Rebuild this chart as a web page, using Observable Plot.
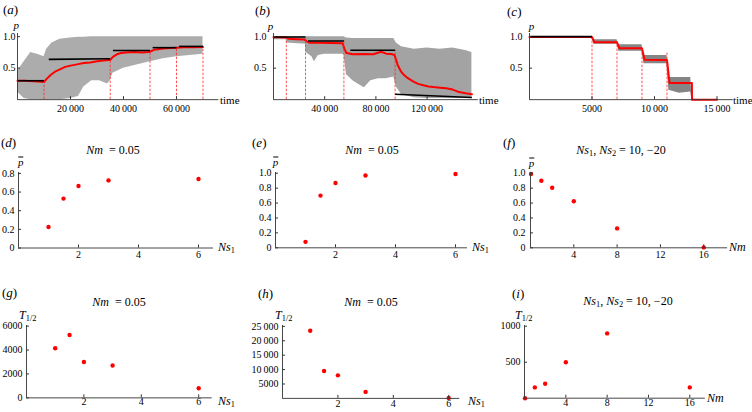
<!DOCTYPE html>
<html><head><meta charset="utf-8">
<script src="https://cdn.jsdelivr.net/npm/d3@7"></script>
<script src="https://cdn.jsdelivr.net/npm/@observablehq/plot@0.6"></script>
<style>
html,body{margin:0;padding:0;background:#fff;}
#fig{position:relative;width:752px;height:412px;overflow:hidden;font-family:"Liberation Serif","Times New Roman",Times,"DejaVu Serif",serif;color:#000;background:#fff;}
.lab{position:absolute;white-space:nowrap;line-height:1;font-family:"Liberation Serif","Times New Roman",Times,"DejaVu Serif",serif;}
.sb{font-size:0.7em;vertical-align:-0.3em;font-style:normal;}
.ov{display:inline-block;border-top:1px solid #000;line-height:0.7em;padding-top:1px;}
svg text{font-family:"Liberation Serif","Times New Roman",Times,"DejaVu Serif",serif;}
</style></head><body><div id="fig"></div><script>
// ---------- Panel (a) data ----------
const aRedT = [0, 3000, 6000, 9000, 10000, 11000, 12500, 14000, 16000, 18000, 20000, 22500, 25000, 27500, 30000, 32500, 34500, 35000, 36000, 37500, 39000, 41000, 44000, 47000, 49500, 50000, 51500, 53000, 55000, 58000, 60000, 63000, 66000, 70000];
const aRedP = [0.30, 0.30, 0.29, 0.285, 0.28, 0.33, 0.39, 0.44, 0.48, 0.52, 0.54, 0.56, 0.58, 0.59, 0.61, 0.62, 0.63, 0.63, 0.68, 0.72, 0.74, 0.75, 0.755, 0.75, 0.755, 0.76, 0.79, 0.80, 0.81, 0.82, 0.825, 0.83, 0.83, 0.835];
const aBlackT1 = [0, 11800, 36000, 51000, 61000];
const aBlackT2 = [10000, 35000, 50000, 60000, 70000];
const aBlackP1 = [0.30, 0.64, 0.78, 0.825, 0.845];
const aBlackP2 = [0.30, 0.65, 0.78, 0.825, 0.845];
const aDashT = [10000, 35000, 50000, 60000, 70000];
const aDashTop = [0.29, 0.65, 0.78, 0.825, 0.845];
const aBandT = [0, 2500, 5000, 7500, 10000, 11000, 13000, 16000, 20000, 23000, 25000, 28000, 31000, 34000, 35000, 36000, 40000, 45000, 50000, 55000, 60000, 65000, 70000];
const aBandLo = [0.12, 0.02, 0, 0, 0, 0, 0, 0, 0.02, 0.05, 0.2, 0.3, 0.3, 0.25, 0.3, 0.42, 0.5, 0.55, 0.6, 0.65, 0.68, 0.7, 0.72];
const aBandHi = [0.45, 0.6, 0.75, 0.72, 0.68, 0.8, 0.9, 0.96, 0.98, 0.99, 0.99, 1, 1, 1, 1, 1, 1, 1, 1, 1, 1, 1, 1];
const aXTicks = [20000, 40000, 60000];
const aXLabels = ["20\u2009000", "40\u2009000", "60\u2009000"];

// ---------- Panel (b) data ----------
const bRedT = [0, 5000, 10000, 12000, 18000, 24000, 26000, 28000, 35000, 45000, 54000, 55500, 57000, 62000, 70000, 78000, 84000, 88000, 92000, 94500, 96000, 97000, 99500, 102000, 105000, 109000, 113000, 117000, 121000, 125000, 130000, 135000, 140000, 145000, 150000, 155000];
const bRedP = [0.99, 0.99, 0.985, 0.965, 0.96, 0.955, 0.925, 0.905, 0.905, 0.9, 0.895, 0.80, 0.74, 0.72, 0.725, 0.72, 0.76, 0.73, 0.725, 0.71, 0.62, 0.55, 0.45, 0.39, 0.34, 0.29, 0.25, 0.23, 0.21, 0.20, 0.19, 0.18, 0.16, 0.12, 0.10, 0.085];
const bBlackT1 = [0, 27000, 60000, 95000];
const bBlackT2 = [25000, 55000, 95000, 155000];
const bBlackP1 = [0.995, 0.93, 0.785, 0.085];
const bBlackP2 = [0.995, 0.93, 0.785, 0.035];
const bDashT = [10000, 25000, 55000, 95000];
const bDashTop = [0.995, 0.97, 0.93, 0.785];
const bBandT = [0, 10000, 10500, 25000, 25500, 30000, 32000, 35000, 40000, 45000, 50000, 55000, 57000, 62000, 66000, 71000, 76000, 82000, 88000, 94000, 96000, 100000, 110000, 120000, 130000, 140000, 150000, 155000];
const bBandLo = [0.95, 0.95, 0.9, 0.88, 0.75, 0.68, 0.6, 0.7, 0.72, 0.72, 0.72, 0.72, 0.4, 0.3, 0.25, 0.19, 0.3, 0.33, 0.33, 0.36, 0.2, 0.08, 0.03, 0.02, 0.02, 0.02, 0.02, 0.02];
const bBandHi = [1, 1, 1, 1, 1, 1, 1, 1, 1, 1, 1, 1, 0.98, 0.97, 0.97, 0.97, 0.97, 0.97, 0.97, 0.97, 0.9, 0.84, 0.8, 0.82, 0.8, 0.82, 0.78, 0.75];
const bXTicks = [40000, 80000, 120000];
const bXLabels = ["40\u2009000", "80\u2009000", "120\u2009000"];

// ---------- Panel (c) data ----------
const cRedT = [0, 5000, 5200, 7000, 7200, 9000, 9200, 11000, 11200, 12990, 13000, 15000];
const cRedP = [0.995, 0.995, 0.91, 0.91, 0.815, 0.815, 0.635, 0.63, 0.265, 0.265, 0, 0];
const cBlackT1 = [0];
const cBlackT2 = [5000];
const cBlackP1 = [1.0];
const cBlackP2 = [1.0];
const cDashT = [5000, 7000, 9000, 11000];
const cDashTop = [0.995, 0.92, 0.82, 0.76];
const cBandT = [0, 5000, 5150, 7000, 7150, 9000, 9150, 11000, 11150, 12000, 12900, 13000, 15000];
const cBandLo = [0.985, 0.985, 0.88, 0.88, 0.77, 0.77, 0.57, 0.57, 0.15, 0.1, 0.12, 0, 0];
const cBandHi = [1, 1, 0.95, 0.95, 0.87, 0.87, 0.7, 0.7, 0.35, 0.35, 0.35, 0, 0];
const cXTicks = [5000, 10000, 15000];
const cXLabels = ["5000", "10\u2009000", "15\u2009000"];

const pTicks = [0.5, 1.0];
const pLabels = ["0.5", "1.0"];

// ---------- Panels (d)-(i) data ----------
const ns1 = [1, 1.5, 2, 3, 6];
const nm = [0.05, 1, 2, 4, 8, 16];
const dP = [0.225, 0.53, 0.665, 0.725, 0.74];
const eP = [0.08, 0.70, 0.87, 0.97, 0.99];
const fP = [0.99, 0.90, 0.805, 0.625, 0.26, 0.005];
const gT = [4150, 5250, 3000, 2700, 800];
const hT = [23500, 9500, 8000, 2250, 150];
const iT = [0, 150, 200, 500, 900, 150];

const nsTicks = [2, 4, 6];
const nsLabels = ["2", "4", "6"];
const nmTicks = [4, 8, 12, 16];
const nmLabels = ["4", "8", "12", "16"];
const d_yTicks = [0, 0.2, 0.4, 0.6, 0.8];
const d_yLabels = ["0", "0.2", "0.4", "0.6", "0.8"];
const e_yTicks = [0, 0.2, 0.4, 0.6, 0.8, 1.0];
const e_yLabels = ["0", "0.2", "0.4", "0.6", "0.8", "1.0"];
const g_yTicks = [0, 2000, 4000, 6000];
const g_yLabels = ["0", "2000", "4000", "6000"];
const h_yTicks = [5000, 10000, 15000, 20000, 25000];
const h_yLabels = ["5000", "10\u2009000", "15\u2009000", "20\u2009000", "25\u2009000"];
const i_yTicks = [500, 1000];
const i_yLabels = ["500", "1000"];

// ---------- helpers ----------
const fig = document.getElementById("fig");
const idx = a => a.map((_, i) => i);
const AX = "#333";
const SERIF = "'Liberation Serif', 'Times New Roman', Times, 'DejaVu Serif', serif";

function panel(f, marks) {
  const mL = 45, mR = 30, mT = 12, mB = 24;
  const w = f.x1 - f.x0 + mL + mR, h = f.yb - f.yt + mT + mB;
  const xmap = new Map(f.xt.map((t, i) => [t, f.xl[i]]));
  const ymap = new Map(f.yt2.map((t, i) => [t, f.yl[i]]));
  const svg = Plot.plot({
    width: w, height: h,
    marginLeft: mL, marginRight: mR, marginTop: mT, marginBottom: mB,
    x: {domain: f.xd}, y: {domain: f.yd},
    style: {background: "transparent", overflow: "visible", fontFamily: SERIF, fontSize: "10px", color: "#000"},
    marks: [
      ...marks,
      Plot.ruleY([f.yd[0]], {stroke: AX, strokeWidth: 0.9}),
      Plot.ruleX([f.xd[0]], {stroke: AX, strokeWidth: 0.9}),
      Plot.axisX({ticks: f.xt, tickFormat: d => xmap.get(d), tickSize: -3, tickPadding: f.xpad, stroke: AX, fill: "#000", fontSize: 10, label: null}),
      Plot.axisY({ticks: f.yt2, tickFormat: d => ymap.get(d), tickSize: -3, tickPadding: f.ypad, stroke: AX, fill: "#000", fontSize: 10, label: null})
    ]
  });
  svg.style.position = "absolute";
  svg.style.left = (f.x0 - mL) + "px";
  svg.style.top = (f.yt - mT) + "px";
  svg.style.maxWidth = "none";
  fig.appendChild(svg);
}

function topMarks(o) {
  return [
    Plot.areaY(idx(o.bandT), {x: i => o.bandT[i], y1: i => o.bandLo[i], y2: i => o.bandHi[i], fill: o.bandColor, curve: "linear"}),
    Plot.line(idx(o.redT), {x: i => o.redT[i], y: i => o.redP[i], stroke: "#ff0000", strokeWidth: 2, strokeLinejoin: "round"}),
    Plot.ruleX(idx(o.dashT), {x: i => o.dashT[i], y1: i => 0, y2: i => o.dashTop[i], stroke: "#ff2a2a", strokeWidth: 0.8, strokeDasharray: "2.5,1.5"}),
    Plot.link(idx(o.bT1), {x1: i => o.bT1[i], x2: i => o.bT2[i], y1: i => o.bP1[i], y2: i => o.bP2[i], stroke: "#000", strokeWidth: 1.6})
  ];
}
function dotMarks(xs, ys) {
  return [Plot.dot(idx(xs), {x: i => xs[i], y: i => ys[i], fill: "#ff0000", r: 2.2, stroke: null})];
}

// ---------- top row ----------
panel({x0: 17, x1: 218.4, yt: 32.85, yb: 99, xd: [0, 76000], yd: [0, 1.05], xt: aXTicks, xl: aXLabels, yt2: pTicks, yl: pLabels, xpad: 8, ypad: 5},
  topMarks({bandT: aBandT, bandLo: aBandLo, bandHi: aBandHi, bandColor: "#acacac", redT: aRedT, redP: aRedP, dashT: aDashT, dashTop: aDashTop, bT1: aBlackT1, bT2: aBlackT2, bP1: aBlackP1, bP2: aBlackP2}));
panel({x0: 272.5, x1: 477.3, yt: 32.85, yb: 99, xd: [0, 160000], yd: [0, 1.05], xt: bXTicks, xl: bXLabels, yt2: pTicks, yl: pLabels, xpad: 8, ypad: 10},
  topMarks({bandT: bBandT, bandLo: bBandLo, bandHi: bBandHi, bandColor: "#a3a3a3", redT: bRedT, redP: bRedP, dashT: bDashT, dashTop: bDashTop, bT1: bBlackT1, bT2: bBlackT2, bP1: bBlackP1, bP2: bBlackP2}));
panel({x0: 528.5, x1: 732.25, yt: 32.85, yb: 99, xd: [0, 16300], yd: [0, 1.05], xt: cXTicks, xl: cXLabels, yt2: pTicks, yl: pLabels, xpad: 8, ypad: 10},
  topMarks({bandT: cBandT, bandLo: cBandLo, bandHi: cBandHi, bandColor: "#858585", redT: cRedT, redP: cRedP, dashT: cDashT, dashTop: cDashTop, bT1: cBlackT1, bT2: cBlackT2, bP1: cBlackP1, bP2: cBlackP2}));

// ---------- middle row ----------
panel({x0: 18.3, x1: 213.3, yt: 171.8, yb: 247.3, xd: [0, 6.5], yd: [0, 0.81], xt: nsTicks, xl: nsLabels, yt2: d_yTicks, yl: d_yLabels, xpad: 5.5, ypad: 7}, dotMarks(ns1, dP));
panel({x0: 275.3, x1: 467.3, yt: 172, yb: 247.3, xd: [0, 6.4], yd: [0, 1.01], xt: nsTicks, xl: nsLabels, yt2: e_yTicks, yl: e_yLabels, xpad: 6, ypad: 7}, dotMarks(ns1, eP));
panel({x0: 530, x1: 727.1, yt: 172, yb: 247.3, xd: [0, 18.2], yd: [0, 1.01], xt: nmTicks, xl: nmLabels, yt2: e_yTicks, yl: e_yLabels, xpad: 6.5, ypad: 8}, dotMarks(nm, fP));

// ---------- bottom row ----------
panel({x0: 25.7, x1: 211.4, yt: 325.35, yb: 397.7, xd: [0, 6.47], yd: [0, 6050], xt: nsTicks, xl: nsLabels, yt2: g_yTicks, yl: g_yLabels, xpad: 3.5, ypad: 7}, dotMarks(ns1, gT));
panel({x0: 282, x1: 459.3, yt: 325.1, yb: 398, xd: [0, 6.4], yd: [0, 25300], xt: nsTicks, xl: nsLabels, yt2: h_yTicks, yl: h_yLabels, xpad: 4.5, ypad: 7}, dotMarks(ns1, hT));
panel({x0: 524, x1: 704.8, yt: 325, yb: 397.7, xd: [0, 17.5], yd: [0, 1010], xt: nmTicks, xl: nmLabels, yt2: i_yTicks, yl: i_yLabels, xpad: 3.5, ypad: 7}, dotMarks(nm, iT));

// ---------- text labels ----------
function lab(html, x, y, size, anchor) {
  const d = document.createElement("div");
  d.className = "lab";
  d.innerHTML = html;
  d.style.left = x + "px";
  d.style.top = y + "px";
  d.style.fontSize = size + "px";
  d.style.transform = anchor === "c" ? "translate(-50%,-50%)" : "translate(0,-50%)";
  fig.appendChild(d);
}
const panelLetters = ["a", "b", "c", "d", "e", "f", "g", "h", "i"];
const letterPos = [[3, 8.7], [255, 9.5], [507, 10.5], [1, 141.5], [252, 141.5], [503, 141.5], [2, 292], [258, 293], [512, 293]];
panelLetters.forEach((l, k) => lab("(<i>" + l + "</i>)", letterPos[k][0], letterPos[k][1], 13, "l"));

// top-row axis labels
[[16.3, 25], [270.5, 25.5], [531.5, 25.5]].forEach(p => lab("<i>p</i>", p[0], p[1], 11, "c"));
[[220, 100], [479, 100], [733, 100]].forEach(p => lab("time", p[0], p[1], 11, "l"));

// titles
const nmTitle = "<i>Nm</i>&nbsp; = 0.05";
const nsTitle = "<i>Ns</i><span class='sb'>1</span>, <i>Ns</i><span class='sb'>2</span> = 10, \u221220";
lab(nmTitle, 113, 150, 12, "c");
lab(nmTitle, 372, 150, 12, "c");
lab(nsTitle, 621, 151, 12, "c");
lab(nmTitle, 119, 302, 12, "c");
lab(nmTitle, 371, 302, 12, "c");
lab(nsTitle, 628, 302, 12, "c");

// middle/bottom axis labels
const pbar = "<i class='ov'>p</i>";
[[20.8, 162], [275.5, 162], [531.5, 163]].forEach(p => lab(pbar, p[0], p[1], 11, "c"));
const nsLab = "<i>Ns</i><span class='sb'>1</span>";
lab(nsLab, 218, 247.5, 12, "l");
lab(nsLab, 472, 248, 12, "l");
lab("<i>Nm</i>", 729, 246.7, 12, "l");
lab(nsLab, 218, 402, 12, "l");
lab(nsLab, 468, 402, 12, "l");
lab("<i>Nm</i>", 707, 398, 12, "l");
const tLab = "<i>T</i><span class='sb'>1/2</span>";
lab(tLab, 19, 316, 12, "l");
lab(tLab, 275, 316, 12, "l");
lab(tLab, 515, 316, 12, "l");
</script></body></html>
